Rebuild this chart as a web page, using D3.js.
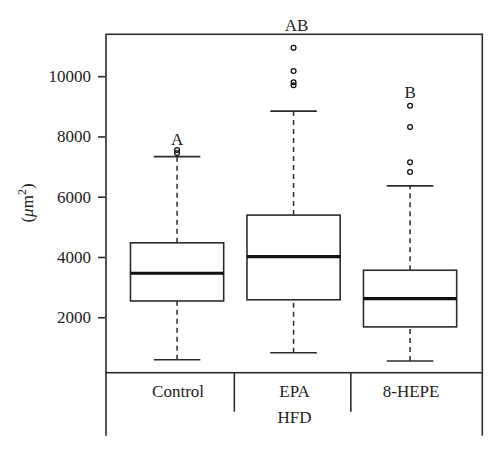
<!DOCTYPE html>
<html>
<head>
<meta charset="utf-8">
<script src="https://cdn.jsdelivr.net/npm/d3@7"></script>
<style>
  body { margin: 0; background: #fff; }
  text { font-family: "Liberation Serif", "DejaVu Serif", serif; fill: #222; }
</style>
</head>
<body>
<svg id="chart"></svg>
<script>
// groups and the box statistics (µm²)
var groups = ["Control", "EPA", "8-HEPE"];
var lowerWhisker = [590, 820, 550];
var q1 = [2540, 2580, 1680];
var medians = [3460, 4010, 2620];
var q3 = [4470, 5390, 3560];
var upperWhisker = [7330, 8840, 6360];
var outliers = [
  [7450, 7550],
  [9700, 9800, 10170, 10940],
  [6820, 7140, 8310, 9020]
];
// significance letters and the value where their baseline sits
var letters = ["A", "AB", "B"];
var letterAt = [7700, 11500, 9280];
var yTicks = [2000, 4000, 6000, 8000, 10000];
var subGroup = "HFD";

var svgWidth = 500, svgHeight = 453;
var svg = d3.select("#chart")
  .attr("width", svgWidth)
  .attr("height", svgHeight);

// plot frame edges (note: "top" is taken by window.top)
var plotLeft = 106, plotRight = 482.3, plotTop = 34.3, plotBottom = 372.7;

// boxes sit at 1,2,3 like an R boxplot
var x = d3.scaleLinear().domain([0.39, 3.62]).range([plotLeft, plotRight]);
var y = d3.scaleLinear().domain([160, 11390]).range([plotBottom, plotTop]);

var ink = "#2b2b2b";

// plot frame
svg.append("rect")
  .attr("x", plotLeft).attr("y", plotTop)
  .attr("width", plotRight - plotLeft).attr("height", plotBottom - plotTop)
  .attr("fill", "none").attr("stroke", ink).attr("stroke-width", 1.6);

// y axis
var yAxis = d3.axisLeft(y).tickValues(yTicks).tickSize(7).tickPadding(7)
  .tickFormat(d3.format("d"));
var ya = svg.append("g").attr("transform", "translate(" + (plotLeft - 1) + ",0)").call(yAxis);
ya.select(".domain").remove();
ya.selectAll("line").attr("stroke", ink).attr("stroke-width", 1.6);
ya.selectAll("text").style("font-size", "17px")
  .style("font-family", "'Liberation Serif', serif").attr("fill", "#222");

// y label
var yl = svg.append("text")
  .attr("transform", "translate(33,203) rotate(-90)")
  .attr("text-anchor", "middle")
  .style("font-size", "17px");
yl.append("tspan").text("(");
yl.append("tspan").style("font-style", "italic").text("μ");
yl.append("tspan").text("m");
yl.append("tspan").attr("dy", -7).style("font-size", "12px").text("2");
yl.append("tspan").attr("dy", 7).text(")");

// boxes
var box = svg.selectAll("g.box").data(groups).enter().append("g").attr("class", "box");
var bw = 0.4, cw = 0.2;

box.append("line") // lower whisker
  .attr("x1", function(d, i) { return x(i + 1); })
  .attr("x2", function(d, i) { return x(i + 1); })
  .attr("y1", function(d, i) { return y(lowerWhisker[i]); })
  .attr("y2", function(d, i) { return y(q1[i]); })
  .attr("stroke", ink).attr("stroke-width", 1.5).attr("stroke-dasharray", "5,4");
box.append("line") // upper whisker
  .attr("x1", function(d, i) { return x(i + 1); })
  .attr("x2", function(d, i) { return x(i + 1); })
  .attr("y1", function(d, i) { return y(q3[i]); })
  .attr("y2", function(d, i) { return y(upperWhisker[i]); })
  .attr("stroke", ink).attr("stroke-width", 1.5).attr("stroke-dasharray", "5,4");
box.append("line") // lower cap
  .attr("x1", function(d, i) { return x(i + 1 - cw); })
  .attr("x2", function(d, i) { return x(i + 1 + cw); })
  .attr("y1", function(d, i) { return y(lowerWhisker[i]); })
  .attr("y2", function(d, i) { return y(lowerWhisker[i]); })
  .attr("stroke", ink).attr("stroke-width", 1.6);
box.append("line") // upper cap
  .attr("x1", function(d, i) { return x(i + 1 - cw); })
  .attr("x2", function(d, i) { return x(i + 1 + cw); })
  .attr("y1", function(d, i) { return y(upperWhisker[i]); })
  .attr("y2", function(d, i) { return y(upperWhisker[i]); })
  .attr("stroke", ink).attr("stroke-width", 1.6);
box.append("rect")
  .attr("x", function(d, i) { return x(i + 1 - bw); })
  .attr("width", function(d, i) { return x(i + 1 + bw) - x(i + 1 - bw); })
  .attr("y", function(d, i) { return y(q3[i]); })
  .attr("height", function(d, i) { return y(q1[i]) - y(q3[i]); })
  .attr("fill", "#fff").attr("stroke", ink).attr("stroke-width", 1.6);
box.append("line") // median
  .attr("x1", function(d, i) { return x(i + 1 - bw); })
  .attr("x2", function(d, i) { return x(i + 1 + bw); })
  .attr("y1", function(d, i) { return y(medians[i]); })
  .attr("y2", function(d, i) { return y(medians[i]); })
  .attr("stroke", "#111").attr("stroke-width", 3.2);

box.each(function(d, i) {
  d3.select(this).selectAll("circle").data(outliers[i]).enter().append("circle")
    .attr("cx", x(i + 1))
    .attr("cy", function(v) { return y(v); })
    .attr("r", 2.4)
    .attr("fill", "none").attr("stroke", "#111").attr("stroke-width", 1.3);
});

box.append("text")
  .attr("x", function(d, i) { return x(i + 1) + (letters[i].length > 1 ? 3 : 0); })
  .attr("y", function(d, i) { return y(letterAt[i]); })
  .attr("text-anchor", "middle")
  .style("font-size", "17px")
  .text(function(d, i) { return letters[i]; });

// category table under the plot
var tableBottom = 435.7, sepBottom = 411.7;
svg.append("line").attr("x1", plotLeft).attr("x2", plotLeft).attr("y1", plotBottom).attr("y2", tableBottom)
  .attr("stroke", ink).attr("stroke-width", 1.6);
svg.append("line").attr("x1", plotRight).attr("x2", plotRight).attr("y1", plotBottom).attr("y2", tableBottom)
  .attr("stroke", ink).attr("stroke-width", 1.6);
svg.selectAll("line.sep").data([1.5, 2.5]).enter().append("line").attr("class", "sep")
  .attr("x1", function(d) { return x(d) - 1; })
  .attr("x2", function(d) { return x(d) - 1; })
  .attr("y1", plotBottom).attr("y2", sepBottom)
  .attr("stroke", ink).attr("stroke-width", 1.6);

svg.selectAll("text.cat").data(groups).enter().append("text").attr("class", "cat")
  .attr("x", function(d, i) { return x(i + 1) + 1; })
  .attr("y", 397)
  .attr("text-anchor", "middle")
  .style("font-size", "17px")
  .text(function(d) { return d; });

svg.append("text")
  .attr("x", x(2) + 1)
  .attr("y", 422.5)
  .attr("text-anchor", "middle")
  .style("font-size", "17px")
  .text(subGroup);
</script>
</body>
</html>
